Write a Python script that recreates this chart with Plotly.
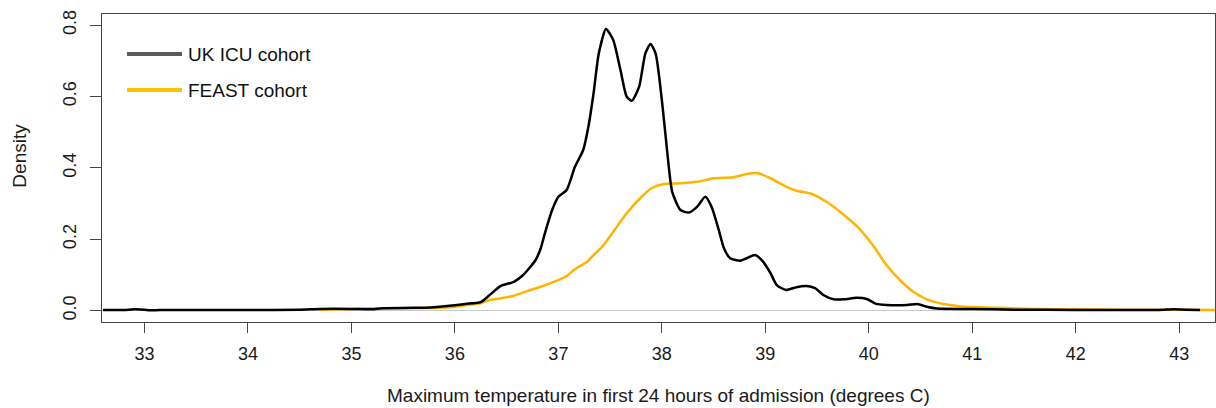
import plotly.graph_objects as go

# Kernel density estimates of maximum temperature (degrees C) in the first 24 h
uk_icu_temp = [32.6, 32.8, 32.9, 33.0, 33.05, 33.15, 33.5, 34.0, 34.5, 34.7, 35.0, 35.2, 35.3,
               35.6, 35.8, 36.0, 36.1, 36.25, 36.34, 36.44, 36.57, 36.66, 36.73, 36.78, 36.83,
               36.86, 36.94, 37.0, 37.08, 37.16, 37.24, 37.29, 37.34, 37.39, 37.46, 37.53,
               37.6, 37.66, 37.71, 37.78, 37.84, 37.89, 37.94, 38.0, 38.05, 38.1, 38.18,
               38.26, 38.34, 38.42, 38.48, 38.55, 38.6, 38.66, 38.76, 38.82, 38.9, 38.98,
               39.05, 39.11, 39.2, 39.3, 39.4, 39.48, 39.56, 39.66, 39.76, 39.88, 39.98,
               40.07, 40.17, 40.37, 40.47, 40.56, 40.66, 41.0, 41.4, 42.0, 42.8, 42.95,
               43.05, 43.2]
uk_icu_density = [0.002, 0.002, 0.004, 0.003, 0.001, 0.002, 0.002, 0.002, 0.003, 0.005, 0.005,
                  0.004, 0.007, 0.008, 0.010, 0.015, 0.019, 0.024, 0.045, 0.069, 0.081, 0.100,
                  0.123, 0.142, 0.175, 0.207, 0.282, 0.319, 0.338, 0.403, 0.450, 0.515, 0.609,
                  0.720, 0.789, 0.758, 0.674, 0.600, 0.588, 0.627, 0.720, 0.747, 0.720, 0.590,
                  0.450, 0.333, 0.282, 0.275, 0.291, 0.319, 0.291, 0.226, 0.175, 0.147, 0.140,
                  0.147, 0.156, 0.137, 0.105, 0.072, 0.058, 0.066, 0.069, 0.063, 0.044, 0.032,
                  0.032, 0.036, 0.033, 0.019, 0.016, 0.016, 0.019, 0.011, 0.006, 0.005, 0.003,
                  0.002, 0.002, 0.004, 0.003, 0.002]

feast_temp = [34.7, 35.0, 35.15, 35.5, 35.86, 36.0, 36.12, 36.25, 36.31, 36.45, 36.57, 36.7,
              36.83, 36.95, 37.08, 37.15, 37.28, 37.34, 37.41, 37.45, 37.53, 37.66, 37.79,
              37.9, 38.02, 38.18, 38.34, 38.5, 38.69, 38.82, 38.93, 39.05, 39.19, 39.3, 39.45,
              39.59, 39.76, 39.92, 40.05, 40.17, 40.3, 40.43, 40.56, 40.72, 40.94, 41.27,
              41.6, 42.0, 42.5, 43.0, 43.35]
feast_density = [0.003, 0.005, 0.007, 0.007, 0.008, 0.011, 0.016, 0.021, 0.028, 0.035, 0.042,
                 0.055, 0.067, 0.080, 0.097, 0.114, 0.138, 0.156, 0.175, 0.189, 0.221, 0.273,
                 0.315, 0.343, 0.355, 0.357, 0.361, 0.371, 0.374, 0.383, 0.385, 0.371, 0.349,
                 0.336, 0.327, 0.305, 0.268, 0.226, 0.179, 0.128, 0.086, 0.053, 0.032, 0.019,
                 0.011, 0.008, 0.005, 0.004, 0.003, 0.003, 0.002]

x_ticks = [33, 34, 35, 36, 37, 38, 39, 40, 41, 42, 43]
y_ticks = [0.0, 0.2, 0.4, 0.6, 0.8]
y_tick_labels = ["0.0", "0.2", "0.4", "0.6", "0.8"]

series_names = ["UK ICU cohort", "FEAST cohort"]
curve_colors = ["#000000", "#FFB400"]
key_colors = ["#5A5A5A", "#FFC000"]

FONT = "Liberation Sans, Arial, sans-serif"
AXIS_COL = "#444444"

fig = go.Figure()
fig.add_trace(go.Scatter(x=feast_temp, y=feast_density, mode="lines",
                         line=dict(color=curve_colors[1], width=2.5, shape="spline", smoothing=0.6),
                         name=series_names[1], showlegend=False))
fig.add_trace(go.Scatter(x=uk_icu_temp, y=uk_icu_density, mode="lines",
                         line=dict(color=curve_colors[0], width=2.5, shape="spline", smoothing=0.6),
                         name=series_names[0], showlegend=False))

fig.update_layout(
    width=1216, height=408,
    margin=dict(l=102, r=1, t=14, b=86),
    paper_bgcolor="white", plot_bgcolor="white",
    font=dict(family=FONT, color="#1a1a1a", size=18),
    xaxis=dict(range=[32.59, 43.345], tickvals=x_ticks, ticks="outside", ticklen=10,
               tickcolor=AXIS_COL, tickwidth=1.3, showgrid=False, zeroline=False,
               showline=True, linecolor=AXIS_COL, linewidth=1.3, mirror=True,
               tickfont=dict(size=18), ticklabelstandoff=5),
    yaxis=dict(range=[-0.0316, 0.831], tickvals=y_ticks, ticktext=y_tick_labels,
               ticks="outside", ticklen=11, tickcolor=AXIS_COL, tickwidth=1.3,
               tickangle=-90, showgrid=False, zeroline=True, zerolinecolor="#C8C8C8",
               zerolinewidth=1.2, showline=True, linecolor=AXIS_COL, linewidth=1.3,
               mirror=True, tickfont=dict(size=18), ticklabelstandoff=7),
)

# Axis titles
fig.add_annotation(text="Maximum temperature in first 24 hours of admission (degrees C)",
                   xref="paper", yref="paper", x=0.5, y=-0.2792, xanchor="center",
                   yanchor="bottom", showarrow=False, font=dict(size=19))
fig.add_annotation(text="Density", xref="paper", yref="paper", x=-0.0737, y=0.54,
                   xanchor="center", yanchor="middle", textangle=-90, showarrow=False,
                   font=dict(size=19))

# Key in the upper-left corner
key_rows = [0.870, 0.753]
for name, col, yy in zip(series_names, key_colors, key_rows):
    fig.add_shape(type="line", xref="paper", yref="paper", x0=0.0225, x1=0.0719,
                  y0=yy, y1=yy, line=dict(color=col, width=4))
    fig.add_annotation(text=name, xref="paper", yref="paper", x=0.0755, y=yy,
                       xanchor="left", yanchor="middle", showarrow=False,
                       font=dict(size=19, color="#111111"))

fig.write_html("out.html")
